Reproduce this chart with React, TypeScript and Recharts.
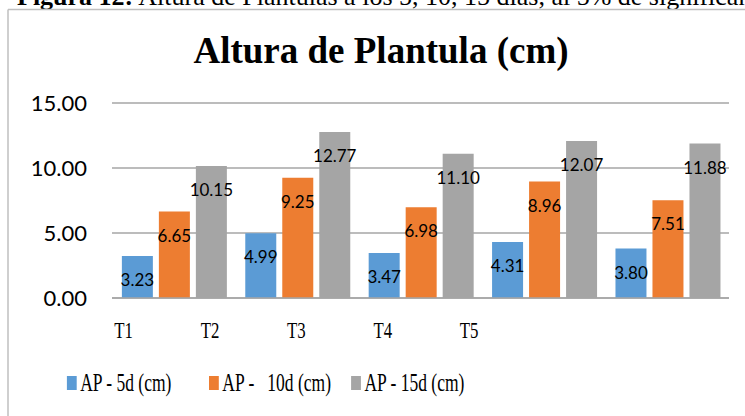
import { BarChart, Bar, XAxis, YAxis, CartesianGrid, LabelList } from 'recharts'

const categories = ['T1', 'T2', 'T3', 'T4', 'T5']
const ap5 = [3.23, 4.99, 3.47, 4.31, 3.8]
const ap10 = [6.65, 9.25, 6.98, 8.96, 7.51]
const ap15 = [10.15, 12.77, 11.1, 12.07, 11.88]
const yTicks = [0, 5, 10, 15]

const series = [
    { key: 'ap5', name: 'AP - 5d (cm)', color: '#5B9BD5' },
    { key: 'ap10', name: 'AP -   10d (cm)', color: '#ED7D31' },
    { key: 'ap15', name: 'AP - 15d (cm)', color: '#A5A5A5' },
]

const data = categories.map((c, i) => ({ name: c, ap5: ap5[i], ap10: ap10[i], ap15: ap15[i] }))

const serif = '"Liberation Serif", "Times New Roman", serif'
const sans = 'Lato, Calibri, sans-serif'
const squeeze = 0.7

// the bottom texts in the picture are horizontally squeezed
function SqueezedTick(props: any) {
    const { x, y, payload } = props
    return (
        <g transform={`translate(${x * squeeze + 2},${y})`}>
            <text transform={`scale(${squeeze},1)`} textAnchor="middle" y={40} fontFamily={serif} fontSize={24} fill="#000">
                {payload.value}
            </text>
        </g>
    )
}

export default function App() {
    return (
        <div style={{ position: 'absolute', left: 0, top: 0, width: 745, height: 416, overflow: 'hidden', background: '#fff' }}>
            <svg width={745} height={416} style={{ position: 'absolute', left: 0, top: 0 }}>
                <text x={17} y={5} fontFamily={serif} fontSize={26} fill="#000">
                    <tspan fontWeight="bold">Figura 12:</tspan>
                    <tspan> Altura de Plantulas a los 5, 10, 15 días, al 5% de significancia</tspan>
                </text>
                <line x1={8} y1={9.5} x2={745} y2={9.5} stroke="#BFBFBF" strokeWidth={1.5} />
                <line x1={8} y1={9.5} x2={8} y2={416} stroke="#BFBFBF" strokeWidth={1.5} />
                <text x={381} y={63} textAnchor="middle" fontFamily={serif} fontWeight="bold" fontSize={37} fill="#000">
                    Altura de Plantula (cm)
                </text>
            </svg>
            <div style={{ position: 'absolute', left: 0, top: 0 }}>
                <BarChart
                    width={745}
                    height={416}
                    data={data}
                    margin={{ top: 103, right: 16, left: 12, bottom: 88 }}
                    barCategoryGap="8%"
                    barGap={6}
                >
                    <CartesianGrid vertical={false} stroke="#A6A6A6" strokeWidth={1.5} />
                    <XAxis
                        dataKey="name"
                        height={30}
                        axisLine={{ stroke: '#A6A6A6', strokeWidth: 1.5 }}
                        tickLine={false}
                        tickSize={0}
                        tickMargin={0}
                        tick={<SqueezedTick />}
                        interval={0}
                    />
                    <YAxis
                        width={100}
                        domain={[0, 15]}
                        ticks={yTicks}
                        axisLine={false}
                        tickLine={false}
                        tickSize={0}
                        tickMargin={25}
                        tickFormatter={(v: number) => v.toFixed(2)}
                        tick={{ fontFamily: sans, fontSize: 22, fill: '#000' }}
                    />
                    {series.map((s) => (
                        <Bar key={s.key} dataKey={s.key} name={s.name} fill={s.color} isAnimationActive={false}>
                            <LabelList
                                dataKey={s.key}
                                position="insideTop"
                                offset={18}
                                formatter={(v: any) => Number(v).toFixed(2)}
                                style={{ fontFamily: sans, fontSize: 17, fill: '#000' }}
                            />
                        </Bar>
                    ))}
                </BarChart>
            </div>
            <div style={{ position: 'absolute', left: 6, top: 368, transform: `scaleX(${squeeze})`, transformOrigin: '0 0', width: 900 }}>
                {series.map((s, i) => (
                    <div
                        key={s.key}
                        style={{ position: 'absolute', left: 87 + i * 203, top: 0, display: 'flex', alignItems: 'center', whiteSpace: 'pre', fontFamily: serif, fontSize: 25, color: '#000', lineHeight: '30px' }}
                    >
                        <span style={{ display: 'inline-block', width: 14, height: 14, background: s.color, marginRight: 5 }} />
                        <span>{s.name}</span>
                    </div>
                ))}
            </div>
        </div>
    )
}
